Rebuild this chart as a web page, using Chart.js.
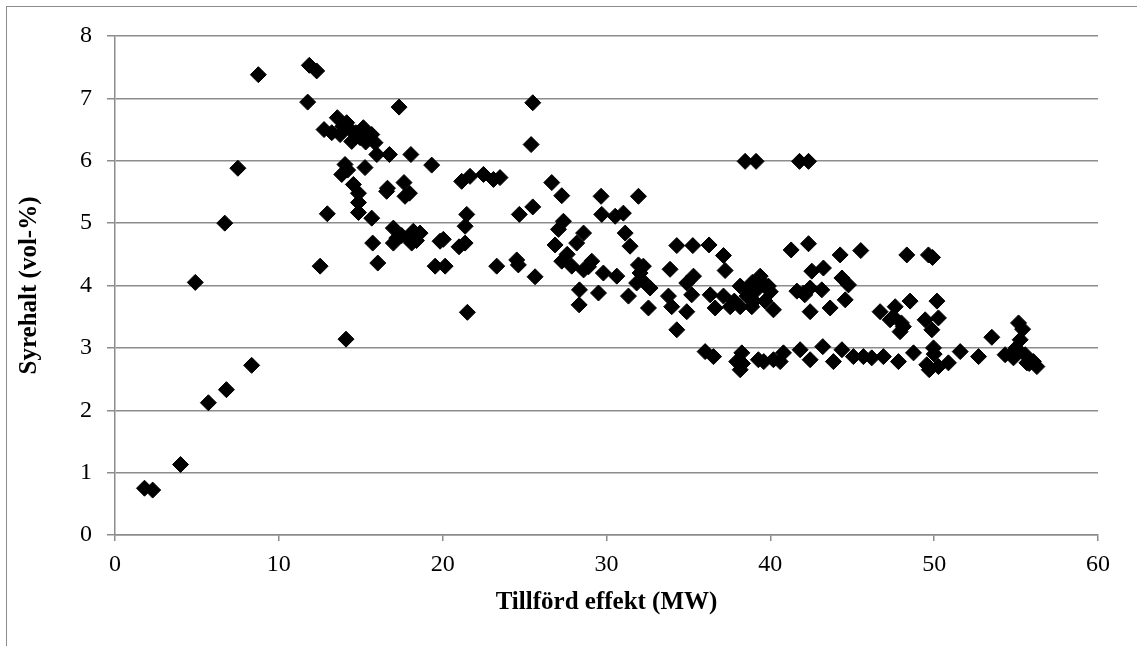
<!DOCTYPE html>
<html>
<head>
<meta charset="utf-8">
<script src="https://cdn.jsdelivr.net/npm/chart.js@4.4.1/dist/chart.umd.min.js"></script>
<style>
  html, body { margin: 0; padding: 0; background: #ffffff; }
  body { width: 1137px; height: 646px; position: relative; overflow: hidden; }
  #frame { position: absolute; left: 6px; top: 6px; width: 1200px; height: 700px;
           border-top: 1.5px solid #8c8c8c; border-left: 1.5px solid #8c8c8c; }
  #c { position: absolute; left: 0; top: 0; }
</style>
</head>
<body>
<div id="frame"></div>
<canvas id="c" width="1137" height="646"></canvas>
<script>
// Tillförd effekt (MW) — x values
const effektMW = [
  1.8, 2.3, 4.0, 4.9, 5.7, 6.7, 6.8, 7.5, 8.34, 8.75,
  11.86, 12.31, 11.76, 17.34, 13.57, 12.76, 13.23, 14.14, 14.35, 15.16,
  15.67, 13.74, 14.45, 14.96, 15.87, 15.98, 16.75, 18.06, 19.33, 14.04,
  15.26, 13.84, 14.55, 14.86, 16.63, 17.64, 17.97, 13.9, 14.7, 15.4,
  15.3, 14.2, 16.58, 17.7, 14.86, 12.96, 14.86, 15.67, 16.99, 17.2,
  18.21, 18.62, 15.73, 16.99, 18.11, 19.84, 12.52, 16.04, 19.54, 20.15,
  14.1, 17.5, 17.9, 18.4,
  25.4, 25.5, 21.16, 21.67, 22.49, 23.1, 23.5, 26.66, 27.27, 29.67,
  31.95, 21.47, 24.68, 25.5, 21.37, 27.37, 29.71, 30.53, 31.03, 27.07,
  28.6, 31.14, 20.04, 21.37, 26.86, 28.18, 31.44, 23.3, 24.52, 24.62,
  27.27, 27.88, 28.6, 29.1, 29.81, 30.63, 31.95, 32.05, 25.64, 31.84,
  32.66, 28.35, 29.51, 31.34, 28.33, 32.56, 21.51, 21.0, 27.6, 28.9,
  38.46, 39.13, 41.78, 42.33, 34.29, 35.27, 36.26, 37.14, 37.24, 33.88,
  41.27, 42.33, 44.26, 45.52, 35.31, 34.9, 32.25, 32.15, 33.78, 33.98,
  35.2, 34.9, 34.29, 36.33, 36.63, 37.14, 37.55, 38.16, 38.57, 38.16,
  38.87, 39.38, 39.88, 39.17, 39.68, 40.19, 41.62, 42.02, 42.43, 42.53,
  43.24, 43.14, 42.43, 43.65, 44.37, 44.77, 44.57, 36.02, 36.53, 38.26,
  37.95, 38.16, 39.27, 40.19, 40.8, 40.6, 41.82, 42.43, 43.2, 43.85,
  44.37, 45.07, 45.68, 38.9, 39.5, 38.6, 39.0, 40.0, 37.8, 42.1,
  38.3, 39.6,
  48.33, 49.65, 49.9, 46.7, 47.62, 48.53, 50.17, 47.31, 47.92, 48.12,
  49.45, 50.26, 49.86, 53.52, 55.15, 55.25, 46.19, 46.9, 47.82, 48.74,
  49.55, 49.96, 50.26, 50.87, 51.59, 52.71, 54.33, 54.84, 55.56, 56.06,
  56.27, 55.66, 47.5, 48.0, 55.4, 55.0, 49.7, 50.0, 54.9, 55.8
];
// Syrehalt (vol-%) — y values
const syrehalt = [
  0.75, 0.72, 1.13, 4.05, 2.12, 5.0, 2.33, 5.88, 2.72, 7.38,
  7.53, 7.44, 6.94, 6.86, 6.69, 6.50, 6.45, 6.61, 6.5, 6.53,
  6.42, 6.42, 6.31, 6.37, 6.29, 6.10, 6.10, 6.10, 5.93, 5.94,
  5.89, 5.78, 5.62, 5.48, 5.56, 5.65, 5.48, 6.55, 6.45, 6.45,
  6.3, 5.85, 5.51, 5.43, 5.33, 5.15, 5.17, 5.08, 4.92, 4.76,
  4.87, 4.84, 4.68, 4.68, 4.68, 4.71, 4.31, 4.36, 4.31, 4.31,
  3.14, 4.8, 4.75, 4.72,
  6.26, 6.93, 5.67, 5.75, 5.78, 5.70, 5.73, 5.65, 5.44, 5.43,
  5.43, 5.14, 5.14, 5.26, 4.95, 5.03, 5.14, 5.11, 5.16, 4.90,
  4.84, 4.84, 4.74, 4.68, 4.65, 4.68, 4.63, 4.31, 4.41, 4.33,
  4.39, 4.31, 4.25, 4.39, 4.20, 4.15, 4.33, 4.20, 4.14, 4.04,
  3.96, 3.93, 3.88, 3.83, 3.69, 3.64, 3.57, 4.62, 4.5, 4.3,
  5.99, 5.99, 5.99, 5.99, 4.64, 4.64, 4.65, 4.48, 4.24, 4.26,
  4.57, 4.67, 4.49, 4.56, 4.15, 4.04, 4.31, 4.09, 3.83, 3.66,
  3.85, 3.58, 3.29, 3.85, 3.64, 3.83, 3.66, 3.99, 3.83, 3.66,
  3.66, 4.15, 3.99, 3.93, 3.75, 3.61, 3.91, 3.88, 3.96, 4.23,
  4.28, 3.93, 3.58, 3.64, 4.12, 4.01, 3.77, 2.94, 2.86, 2.92,
  2.78, 2.65, 2.81, 2.81, 2.92, 2.78, 2.97, 2.81, 3.02, 2.78,
  2.97, 2.86, 2.86, 4.05, 4.05, 3.95, 3.75, 3.9, 3.75, 3.85,
  2.75, 2.78,
  4.49, 4.49, 4.45, 3.58, 3.66, 3.75, 3.75, 3.45, 3.26, 3.34,
  3.45, 3.48, 3.29, 3.17, 3.40, 3.13, 2.84, 2.86, 2.78, 2.92,
  2.73, 3.00, 2.70, 2.76, 2.94, 2.86, 2.89, 2.84, 2.89, 2.78,
  2.70, 2.76, 3.5, 3.4, 3.3, 3.0, 2.65, 2.9, 2.95, 2.75
];
const xTicks = [0, 10, 20, 30, 40, 50, 60];
const yTicks = [0, 1, 2, 3, 4, 5, 6, 7, 8];
const xTitle = 'Tillförd effekt (MW)';
const yTitle = 'Syrehalt (vol-%)';

const points = effektMW.map((x, i) => ({ x: x, y: syrehalt[i] }));
const gridColor = '#8c8c8c';
const tickFont = { family: '"Liberation Serif", "Times New Roman", serif', size: 24 };
const titleFont = { family: '"Liberation Serif", "Times New Roman", serif', size: 25, weight: 'bold' };

new Chart(document.getElementById('c'), {
  type: 'scatter',
  data: {
    datasets: [{
      data: points,
      pointStyle: 'rectRot',
      pointRadius: 8,
      pointBorderWidth: 1,
      backgroundColor: '#000000',
      borderColor: '#000000'
    }]
  },
  options: {
    responsive: false,
    animation: false,
    events: [],
    layout: { padding: { left: 0, top: 36, right: 39, bottom: 0 } },
    plugins: { legend: { display: false }, tooltip: { enabled: false } },
    scales: {
      x: {
        type: 'linear',
        min: xTicks[0], max: xTicks[xTicks.length - 1],
        afterBuildTicks: (s) => { s.ticks = xTicks.map(v => ({ value: v })); },
        afterFit: (s) => { s.height = 111; },
        ticks: { color: '#000', font: tickFont, padding: 9, maxRotation: 0 },
        grid: { drawOnChartArea: false, drawTicks: true, tickLength: 6, color: gridColor, lineWidth: 1.5 },
        border: { display: true, color: gridColor, width: 1.5 },
        title: { display: true, text: xTitle, color: '#000', font: titleFont, padding: { top: 0, bottom: 28 } }
      },
      y: {
        type: 'linear',
        min: yTicks[0], max: yTicks[yTicks.length - 1],
        afterBuildTicks: (s) => { s.ticks = yTicks.map(v => ({ value: v })); },
        afterFit: (s) => { s.width = 115; },
        ticks: { color: '#000', font: tickFont, padding: 15 },
        grid: { drawOnChartArea: true, drawTicks: true, tickLength: 8, color: gridColor, lineWidth: 1.5 },
        border: { display: true, color: gridColor, width: 1.5 },
        title: { display: true, text: yTitle, color: '#000', font: titleFont, padding: { top: 15, bottom: 0 } }
      }
    }
  }
});
</script>
</body>
</html>
